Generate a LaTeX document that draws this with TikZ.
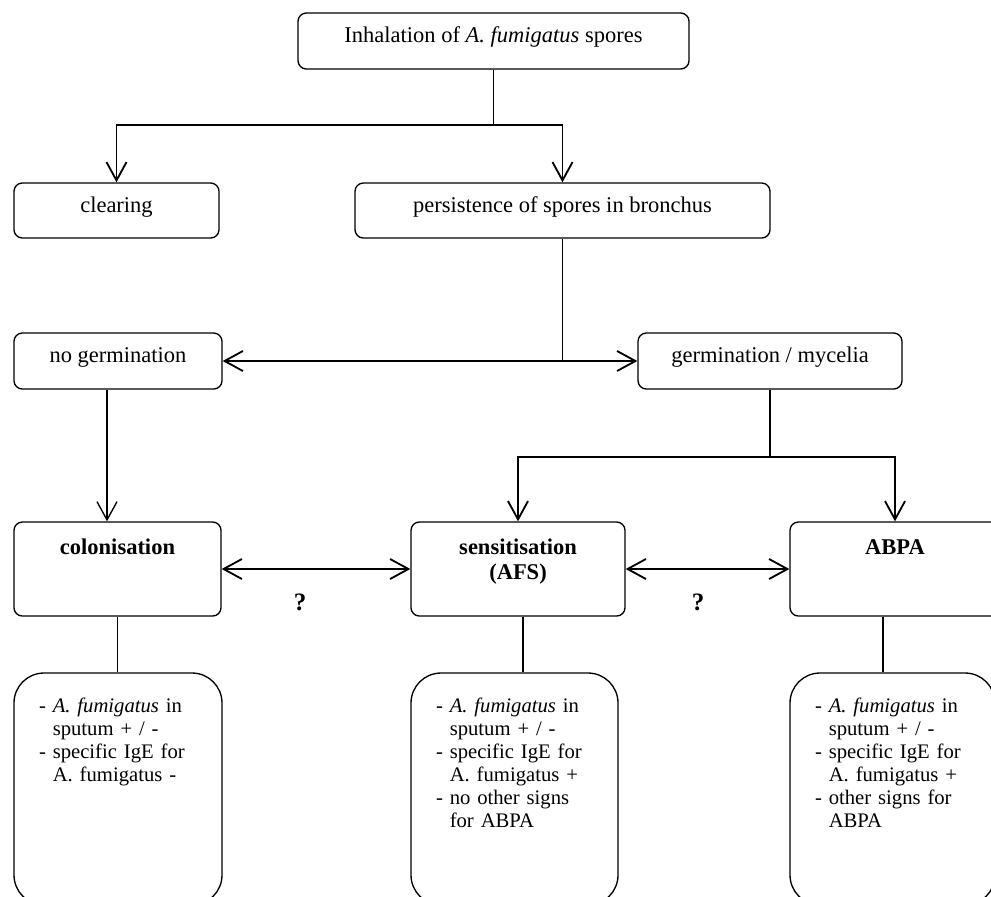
\documentclass[tikz,border=0pt]{standalone}
\usepackage{fontspec}
\setmainfont{Liberation Serif}
\usetikzlibrary{arrows.meta}

\newcommand{\itm}{-\ }
\newcommand{\cont}{\hphantom{-}\ }

\tikzset{
  box/.style={draw, line width=0.8pt, rounded corners=5pt, inner sep=0pt,
    font=\fontsize{13.5}{16}\selectfont},
  bigbox/.style={draw, line width=0.8pt, rounded corners=5pt, inner sep=0pt,
    align=center, text height=19.5pt, text depth=36.9pt,
    font=\bfseries\fontsize{13.5}{15}\selectfont},
  infobox/.style={draw, line width=0.8pt, rounded corners=18pt, inner xsep=15pt, inner ysep=0pt,
    align=left, text height=23.4pt, text depth=115.8pt,
    font=\fontsize{12.4}{13.8}\selectfont},
  link/.style={line width=1.1pt},
  arr/.style={link, -{Straight Barb[length=11pt,width=12pt]}},
  biarr/.style={link, {Straight Barb[length=11pt,width=12pt]}-{Straight Barb[length=11pt,width=12pt]}},
}

\begin{document}
\begin{tikzpicture}[x=0.6pt,y=0.6pt,yscale=-1]
\useasboundingbox (0,0) rectangle (991,896);
\clip (0,0) rectangle (991,896);

%Rounded Rect: spores
\node[box, minimum width=234.6pt, text height=17.4pt, text depth=16.2pt] (inhal) at (493.5,41) {Inhalation of \textit{A. fumigatus} spores};
%Rounded Rect: clearing
\node[box, minimum width=123pt, text height=17.7pt, text depth=15.3pt] (clear) at (116.5,210.5) {clearing};
%Rounded Rect: persistence
\node[box, minimum width=249pt, text height=17.7pt, text depth=15.3pt] (persist) at (562.5,210.5) {persistence of spores in bronchus};
%Rounded Rect: no germination
\node[box, minimum width=124.8pt, text height=17.7pt, text depth=15.9pt] (nogerm) at (118,361) {no germination};
%Rounded Rect: germination
\node[box, minimum width=158.4pt, text height=17.7pt, text depth=15.9pt] (germ) at (770,361) {germination / mycelia};

%Rounded Rect: outcomes
\node[bigbox, text width=124.2pt] (colon) at (117.5,569) {colonisation};
\node[bigbox, text width=128.4pt] (sens) at (518,569) {sensitisation\\(AFS)};
\node[bigbox, text width=126pt] (abpa) at (895,569) {ABPA};

%Rounded Rect: findings
\node[infobox, text width=94.8pt] (colinfo) at (118,789) {\itm\textit{A. fumigatus} in\\ \cont sputum + / -\\ \itm specific IgE for\\ \cont A. fumigatus -};
\node[infobox, text width=94.2pt] (sensinfo) at (514.5,789) {\itm\textit{A. fumigatus} in\\ \cont sputum + / -\\ \itm specific IgE for\\ \cont A. fumigatus +\\ \itm no other signs\\ \cont for ABPA};
\node[infobox, text width=93pt] (abpainfo) at (892.5,789) {\itm\textit{A. fumigatus} in\\ \cont sputum + / -\\ \itm specific IgE for\\ \cont A. fumigatus +\\ \itm other signs for\\ \cont ABPA};

%Text: question marks
\node[font=\bfseries\fontsize{15}{18}\selectfont] (q1) at (300,602) {?};
\node[font=\bfseries\fontsize{15}{18}\selectfont] (q2) at (698,602) {?};

%Straight Lines: first split
\coordinate (split1) at (493.5,125);
\draw[link] (inhal.south) -- (split1);
\draw[arr] (split1) -| (clear.north);
\draw[arr] (split1) -| (persist.north);

%Straight Lines: germination or not
\draw[link] (persist.south) -- (persist.south |- nogerm.east);
\draw[biarr] (nogerm.east) -- (germ.west);
\draw[arr, line width=0.8pt] ([xshift=-6.6pt]nogerm.south) -- ([xshift=-6.6pt]nogerm.south |- colon.north);

%Straight Lines: second split
\draw[link] (germ.south) -- ++(0,67) coordinate (split2);
\draw[arr] (split2) -| (sens.north);
\draw[arr] (split2) -| (abpa.north);

%Straight Lines: between outcomes
\draw[biarr] (colon.east) -- (sens.west);
\draw[biarr] (sens.east) -- (abpa.west);

%Straight Lines: to findings
\draw[line width=0.8pt] (colon.south) -- (colon.south |- colinfo.north);
\draw[line width=0.8pt] ([xshift=3pt]sens.south) -- ([xshift=3pt]sens.south |- sensinfo.north);
\draw[line width=0.8pt] ([xshift=-7.2pt]abpa.south) -- ([xshift=-7.2pt]abpa.south |- abpainfo.north);

\end{tikzpicture}
\end{document}
